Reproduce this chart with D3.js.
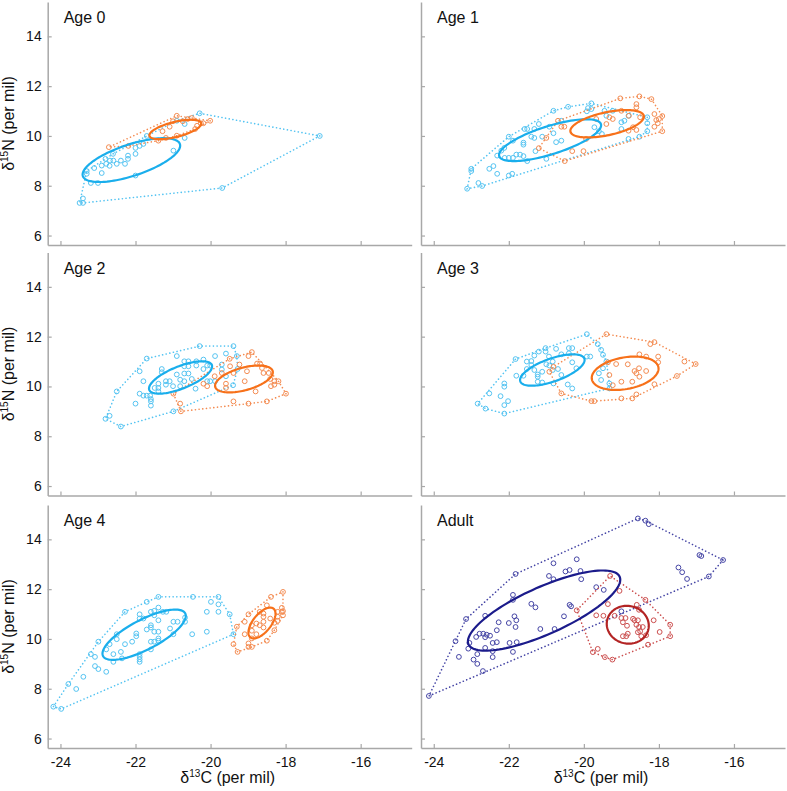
<!DOCTYPE html>
<html><head><meta charset="utf-8">
<script src="https://cdn.jsdelivr.net/npm/d3@7"></script>
<style>body{margin:0;background:#fff}svg{display:block}text{font-family:"Liberation Sans",Arial,sans-serif;fill:#111}</style>
</head><body><div id="chart"></div>
<script>
// ---------- DATA ----------
const panelTitles = ["Age 0","Age 1","Age 2","Age 3","Age 4","Adult"];
const xTicks = [-24,-22,-20,-18,-16];
const yTicks = [6,8,10,12,14];

// [d13C, d15N]
const age0Blue = [[-23.49,7.31],[-23.40,7.31],[-23.40,7.49],[-23.30,8.48],[-23.30,8.59],[-23.19,8.11],[-23.0,8.11],[-23.10,8.71],[-22.9,8.51],[-22.9,8.81],[-22.8,9.08],[-22.78,8.88],[-22.68,9.01],[-22.69,8.8],[-22.6,9.28],[-22.59,9.01],[-22.5,8.88],[-22.39,9.01],[-22.28,8.88],[-22.2,9.21],[-22.2,9.08],[-22.0,8.41],[-22.0,9.28],[-22.0,9.52],[-21.89,9.6],[-21.79,9.68],[-21.7,10.0],[-20.99,9.41],[-20.9,10.61],[-20.69,10.48],[-20.69,9.92],[-20.29,10.91],[-19.69,7.91],[-17.09,10.0]];
const age0Orange = [[-22.71,9.55],[-22.19,9.6],[-21.39,9.81],[-21.28,10.19],[-21.19,9.92],[-21.09,10.37],[-21.0,10.59],[-20.9,10.81],[-20.9,10.01],[-20.74,10.59],[-20.61,10.68],[-20.5,10.72],[-20.41,10.28],[-20.36,10.41],[-20.26,10.51],[-20.19,10.51],[-20.01,10.61]];

const age1Blue = [[-23.11,7.88],[-23.0,8.68],[-23.0,8.59],[-22.81,8.11],[-22.71,7.99],[-22.52,8.68],[-22.41,8.79],[-22.31,8.48],[-22.31,9.21],[-22.2,9.41],[-22.12,9.52],[-22.11,9.12],[-22.0,9.12],[-21.89,9.12],[-21.8,9.25],[-22.0,9.97],[-22.0,8.41],[-21.91,8.48],[-21.89,9.81],[-21.7,9.25],[-21.61,9.19],[-21.61,9.65],[-21.61,9.73],[-21.58,10.28],[-21.51,10.28],[-21.51,8.99],[-21.4,9.97],[-21.32,9.92],[-21.32,10.28],[-21.2,10.48],[-21.29,9.39],[-21.11,9.97],[-21.0,9.08],[-20.92,10.37],[-20.81,10.11],[-20.81,11.01],[-20.74,9.75],[-20.6,9.81],[-20.6,10.61],[-20.42,11.17],[-19.92,10.99],[-19.89,11.12],[-19.8,11.31],[-19.8,11.08],[-19.72,10.35],[-19.6,10.19],[-19.52,10.08],[-19.45,11.01],[-19.4,10.81],[-19.23,11.01],[-19.0,10.55],[-19.0,10.28],[-18.92,10.61],[-18.81,10.81],[-18.81,9.88],[-18.52,9.97],[-18.31,10.75],[-18.31,10.51],[-18.31,10.19]];
const age1Orange = [[-21.2,9.51],[-21.0,9.92],[-20.69,10.61],[-20.6,10.37],[-20.52,10.37],[-20.51,8.99],[-20.31,9.39],[-20.01,9.39],[-19.94,9.88],[-19.67,10.68],[-19.4,10.48],[-19.32,10.75],[-19.23,10.68],[-19.03,11.51],[-19.0,11.01],[-18.81,10.21],[-18.69,10.35],[-18.6,10.24],[-18.6,11.28],[-18.6,11.15],[-18.52,11.59],[-18.5,10.75],[-18.2,11.48],[-18.12,10.88],[-18.07,10.64],[-18.12,10.37],[-18.0,10.68],[-17.91,10.8],[-17.91,10.19],[-18.03,10.51],[-18.8,10.81]];

const age2Blue = [[-22.8,8.70],[-22.69,8.82],[-22.5,9.80],[-22.39,8.39],[-22.0,9.31],[-21.89,10.61],[-21.89,9.71],[-21.79,10.21],[-21.79,9.63],[-21.7,9.63],[-21.61,9.63],[-21.7,11.12],[-21.59,9.49],[-21.59,9.4],[-21.59,9.23],[-21.49,9.94],[-21.39,10.11],[-21.39,9.94],[-21.39,9.8],[-21.3,10.7],[-21.3,10.57],[-21.19,10.21],[-21.19,10.07],[-21.09,10.21],[-21.0,10.01],[-20.99,9.0],[-20.9,11.22],[-20.9,10.48],[-20.81,10.27],[-20.81,10.01],[-20.7,11.01],[-20.7,10.81],[-20.7,10.52],[-20.7,10.21],[-20.59,11.01],[-20.59,10.81],[-20.59,10.52],[-20.5,10.3],[-20.4,9.91],[-20.38,11.01],[-20.38,10.84],[-20.29,11.62],[-20.19,11.08],[-20.19,10.7],[-20.09,10.84],[-20.09,10.21],[-20.01,10.84],[-20.01,10.21],[-19.88,11.22],[-19.88,10.21],[-19.7,10.88],[-19.7,10.68],[-19.59,11.32],[-19.59,10.41],[-19.4,10.05],[-19.39,11.62],[-19.3,11.22],[-19.28,10.7]];
const age2Orange = [[-20.99,9.71],[-20.81,9.31],[-20.79,9.0],[-20.19,10.11],[-20.09,10.01],[-19.89,10.41],[-19.7,10.54],[-19.59,10.11],[-19.59,9.94],[-19.49,11.11],[-19.48,10.81],[-19.39,10.54],[-19.39,9.4],[-19.23,10.88],[-19.09,10.21],[-19.03,10.61],[-18.99,11.22],[-18.9,11.38],[-18.99,9.31],[-18.8,9.8],[-18.76,10.92],[-18.68,10.92],[-18.63,10.74],[-18.59,10.54],[-18.5,9.4],[-18.45,10.54],[-18.41,10.3],[-18.39,10.01],[-18.3,10.21],[-18.3,10.07],[-18.19,10.21],[-17.99,9.71]];

const age3Blue = [[-22.83,9.31],[-22.62,9.11],[-22.52,9.72],[-22.22,9.61],[-22.12,10.12],[-22.12,9.99],[-22.12,9.25],[-22.12,8.91],[-22.02,9.41],[-21.82,11.1],[-21.8,10.43],[-21.61,10.43],[-21.52,11.0],[-21.52,10.7],[-21.4,11.02],[-21.4,10.86],[-21.32,11.24],[-21.32,10.66],[-21.23,10.48],[-21.23,10.39],[-21.23,10.19],[-21.2,11.4],[-21.11,10.59],[-21.11,10.16],[-21.02,11.54],[-21.02,11.4],[-21.0,10.89],[-20.93,11.2],[-20.92,10.84],[-20.83,11.0],[-20.83,10.66],[-20.81,10.12],[-20.74,11.51],[-20.69,10.7],[-20.6,11.29],[-20.6,10.46],[-20.43,10.08],[-20.4,11.54],[-20.4,11.33],[-20.31,11.54],[-20.31,10.97],[-20.31,9.92],[-20.2,10.73],[-19.92,12.1],[-19.92,11.2],[-19.83,11.2],[-19.63,11.7],[-19.54,11.47],[-19.49,11.27],[-19.6,10.53],[-19.54,10.26],[-19.49,10.73],[-19.4,11.0],[-19.32,10.12],[-19.32,9.92]];
const age3Orange = [[-20.92,10.59],[-20.81,10.79],[-20.6,9.72],[-19.8,9.41],[-19.72,9.41],[-19.4,12.1],[-19.36,10.97],[-19.14,10.9],[-19.23,10.05],[-19.32,10.46],[-19.0,10.19],[-19.0,9.52],[-18.83,10.89],[-18.71,10.19],[-18.71,9.52],[-18.65,10.62],[-18.6,10.53],[-18.53,10.73],[-18.52,10.39],[-18.34,10.62],[-18.6,9.68],[-18.52,11.29],[-18.34,11.2],[-18.12,11.78],[-18.23,11.7],[-18.12,10.09],[-18.02,11.2],[-18.02,10.97],[-17.52,10.42],[-17.32,11.0],[-17.02,10.9]];

const age4Blue = [[-24.19,7.28],[-23.98,7.19],[-23.79,8.19],[-23.58,7.99],[-23.39,8.48],[-23.19,9.39],[-23.08,9.28],[-23.08,8.91],[-22.99,8.79],[-22.99,9.89],[-22.78,8.68],[-22.78,9.58],[-22.69,9.79],[-22.59,9.39],[-22.59,9.08],[-22.5,10.19],[-22.5,9.99],[-22.39,9.48],[-22.36,9.22],[-22.28,9.79],[-22.28,11.09],[-22.09,9.89],[-21.98,10.22],[-21.98,10.11],[-21.89,10.99],[-21.89,10.82],[-21.89,9.39],[-21.89,9.28],[-21.89,9.18],[-21.89,9.08],[-21.79,10.82],[-21.7,10.38],[-21.7,11.49],[-21.59,11.09],[-21.59,10.55],[-21.59,10.46],[-21.59,9.89],[-21.59,9.58],[-21.5,11.13],[-21.5,10.95],[-21.5,10.29],[-21.5,9.89],[-21.39,11.69],[-21.39,11.26],[-21.39,10.75],[-21.39,10.29],[-21.39,10.02],[-21.39,9.93],[-21.27,11.09],[-21.18,11.09],[-21.08,10.42],[-20.99,10.69],[-20.99,10.19],[-20.88,10.69],[-20.68,10.86],[-20.68,10.69],[-20.49,10.19],[-20.47,11.69],[-20.1,11.09],[-20.1,10.29],[-19.99,11.49],[-19.79,11.69],[-19.79,11.39],[-19.79,11.09],[-19.49,10.99],[-19.39,10.19]];
const age4Orange = [[-19.39,9.79],[-19.3,10.49],[-19.28,9.48],[-19.09,10.69],[-19.09,10.19],[-18.99,10.99],[-18.99,9.82],[-18.99,9.68],[-18.9,10.55],[-18.9,10.33],[-18.9,10.02],[-18.9,9.68],[-18.78,10.62],[-18.78,10.19],[-18.69,11.09],[-18.69,10.55],[-18.59,11.02],[-18.59,10.89],[-18.59,10.69],[-18.59,10.46],[-18.5,9.93],[-18.5,11.35],[-18.41,10.82],[-18.39,11.69],[-18.3,10.65],[-18.3,10.35],[-18.21,11.09],[-18.21,10.89],[-18.21,10.73],[-18.1,11.25],[-18.1,11.09],[-18.07,11.89],[-18.07,10.95],[-18.07,11.12]];

const adultNavy = [[-24.13,7.71],[-23.42,9.91],[-23.33,9.28],[-23.14,10.8],[-23.08,9.61],[-23.05,9.84],[-22.94,9.17],[-22.87,10.08],[-22.84,9.39],[-22.84,9.0],[-22.78,10.21],[-22.68,10.21],[-22.59,10.17],[-22.5,10.13],[-22.69,8.71],[-22.63,10.93],[-22.63,9.64],[-22.63,10.07],[-22.43,9.84],[-22.43,9.51],[-22.43,9.27],[-22.32,10.35],[-22.32,9.87],[-22.27,10.67],[-22.0,10.64],[-21.98,9.84],[-21.89,11.77],[-21.89,11.57],[-21.89,9.48],[-21.85,10.91],[-21.8,10.75],[-21.82,10.48],[-21.79,9.87],[-21.82,12.61],[-21.4,11.41],[-21.29,11.27],[-21.16,10.4],[-20.93,12.53],[-20.81,12.4],[-20.81,13.04],[-20.78,10.4],[-20.53,10.91],[-20.49,12.71],[-20.38,12.77],[-20.38,11.37],[-20.34,11.31],[-20.19,13.2],[-20.09,12.73],[-20.07,12.4],[-19.67,12.08],[-19.47,11.97],[-19.0,11.11],[-18.56,14.84],[-18.36,14.75],[-18.27,14.61],[-17.48,12.87],[-17.38,12.68],[-17.25,12.41],[-16.92,13.37],[-16.87,13.33],[-16.67,12.51],[-16.29,13.17]];
const adultRed = [[-19.3,12.53],[-19.05,11.93],[-20.19,11.15],[-19.76,9.47],[-19.63,9.6],[-19.67,10.95],[-19.48,10.93],[-19.44,9.27],[-19.36,11.4],[-19.24,9.17],[-19.18,10.93],[-19.0,10.84],[-18.89,10.84],[-18.96,10.67],[-18.85,10.53],[-18.83,10.21],[-18.87,10.11],[-18.96,10.11],[-18.65,10.75],[-18.6,10.57],[-18.56,10.75],[-18.53,10.48],[-18.5,10.31],[-18.43,10.48],[-18.36,11.57],[-18.59,11.37],[-18.53,11.17],[-18.56,10.27],[-18.47,10.11],[-18.34,10.15],[-18.29,9.77],[-18.14,10.75],[-17.98,10.28],[-17.7,10.57],[-17.7,10.11],[-18.69,10.81]];

// standard ellipses: [meanC, meanN, sdC, sdN, correlation]
const ellBlue   = [[-22.11,9.03,1.30,0.88,0.66],[-20.90,9.83,1.36,0.84,0.71],[-20.80,10.36,0.84,0.65,0.68],[-20.84,10.66,0.86,0.63,0.64],[-21.77,10.17,1.11,1.01,0.75]];
const ellOrange = [[-20.94,10.26,0.69,0.39,0.60],[-19.38,10.49,0.98,0.55,0.52],[-19.11,10.30,0.77,0.54,0.50],[-18.90,10.53,0.89,0.67,0.28],[-18.63,10.64,0.36,0.62,0.61]];
const ellAdultNavy = [-21.06,11.14,2.03,1.61,0.77];
const ellAdultRed  = [-18.83,10.57,0.56,0.76,-0.05];

// ---------- LAYOUT ----------
const W=787,H=791;
const colL=[47.7,421], rowB=[245,495.5,748], pw=364, ph=243;
const colors = {
  blue:{pt:"#55c4f2",el:"#1aaeec"}, orange:{pt:"#f48c52",el:"#f7711a"},
  navy:{pt:"#4545a5",el:"#1b1b8b"}, red:{pt:"#cc4f4f",el:"#b32424"}
};
const panels = [
  {groups:[[age0Blue,ellBlue[0],"blue"],[age0Orange,ellOrange[0],"orange"]]},
  {groups:[[age1Blue,ellBlue[1],"blue"],[age1Orange,ellOrange[1],"orange"]]},
  {groups:[[age2Blue,ellBlue[2],"blue"],[age2Orange,ellOrange[2],"orange"]]},
  {groups:[[age3Blue,ellBlue[3],"blue"],[age3Orange,ellOrange[3],"orange"]]},
  {groups:[[age4Blue,ellBlue[4],"blue"],[age4Orange,ellOrange[4],"orange"]]},
  {groups:[[adultNavy,ellAdultNavy,"navy"],[adultRed,ellAdultRed,"red"]]}
];

const svg=d3.select("#chart").append("svg").attr("width",W).attr("height",H);

panels.forEach((p,i)=>{
  const col=i%2,row=Math.floor(i/2);
  const L=colL[col],B=rowB[row],T=B-ph;
  const x=d3.scaleLinear().domain([-24.34,-14.64]).range([L,L+pw]);
  const y=d3.scaleLinear().domain([5.62,15.38]).range([B,T]);
  const g=svg.append("g");

  // axes
  const ya=d3.axisLeft(y).tickValues(yTicks).tickSizeInner(-4).tickSizeOuter(0).tickPadding(6);
  if(col===1) ya.tickFormat(()=> "");
  const xa=d3.axisBottom(x).tickValues(xTicks).tickSizeInner(-4).tickSizeOuter(0).tickPadding(9)
    .tickFormat(row<2 ? (()=> "") : (d=>d<0?"-"+Math.abs(d):String(d)));
  const gy=g.append("g").attr("transform",`translate(${L},0)`).call(ya);
  const gx=g.append("g").attr("transform",`translate(0,${B})`).call(xa);
  [gy,gx].forEach(a=>{
    a.select(".domain").attr("stroke","#a8a8a8").attr("stroke-width",1.5);
    a.selectAll(".tick line").attr("stroke","#a8a8a8").attr("stroke-width",1.2);
    a.selectAll(".tick text").attr("font-size",14).attr("fill","#111").attr("font-family","Liberation Sans, Arial, sans-serif");
  });

  // title
  g.append("text").attr("x",L+16).attr("y",T+21).attr("font-size",16).text(panelTitles[i]);

  // axis titles
  if(col===0){
    const t=g.append("text").attr("transform",`translate(14,${(T+B)/2}) rotate(-90)`).attr("text-anchor","middle").attr("font-size",16);
    t.append("tspan").text("δ");
    t.append("tspan").attr("font-size",10).attr("dy",-6).text("15");
    t.append("tspan").attr("dy",6).text("N (per mil)");
  }
  if(row===2){
    const t=g.append("text").attr("x",L+pw/2-2).attr("y",783).attr("text-anchor","middle").attr("font-size",16);
    t.append("tspan").text("δ");
    t.append("tspan").attr("font-size",10).attr("dy",-6).text("13");
    t.append("tspan").attr("dy",6).text("C (per mil)");
  }

  const line=d3.line().x(d=>x(d[0])).y(d=>y(d[1])).curve(d3.curveLinearClosed);
  p.groups.forEach(([pts,el,c])=>{
    // convex hull (dotted)
    const hull=d3.polygonHull(pts);
    g.append("path").attr("d",line(hull)).attr("fill","none")
      .attr("stroke",colors[c].pt).attr("stroke-width",1.6).attr("stroke-dasharray","0.1,3.6")
      .attr("stroke-linecap","round");
    // points
    g.append("g").selectAll("circle").data(pts).join("circle")
      .attr("cx",d=>x(d[0])).attr("cy",d=>y(d[1])).attr("r",2.4)
      .attr("fill","none").attr("stroke",colors[c].pt).attr("stroke-width",1);
  });
  p.groups.forEach(([pts,el,c])=>{
    const [mx,my,sx,sy,r]=el, th=Math.acos(r);
    const ep=d3.range(0,360,3).map(a=>{const t=a*Math.PI/180;return [mx+sx*Math.cos(t), my+sy*Math.cos(t-th)];});
    g.append("path").attr("d",line(ep))
      .attr("fill","none").attr("stroke",colors[c].el).attr("stroke-width",2.2);
  });
});
</script></body></html>
